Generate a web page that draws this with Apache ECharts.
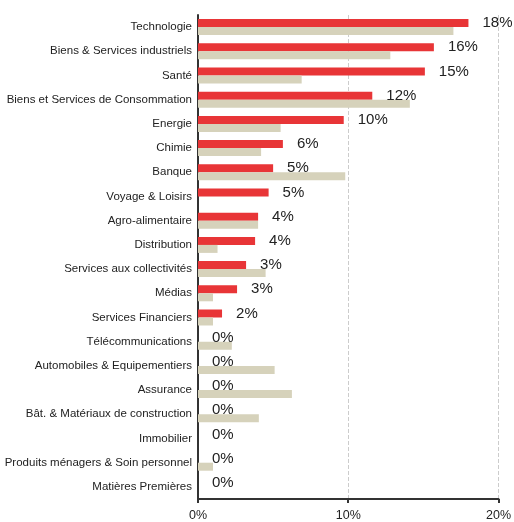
<!DOCTYPE html>
<html><head><meta charset="utf-8">
<script src="https://cdn.jsdelivr.net/npm/echarts@6/dist/echarts.min.js"></script>
<style>html,body{margin:0;padding:0;background:#fff}#c{width:514px;height:522px}</style>
</head><body><div id="c"></div>
<script>
const categories = ["Technologie","Biens & Services industriels","Santé","Biens et Services de Consommation","Energie","Chimie","Banque","Voyage & Loisirs","Agro-alimentaire","Distribution","Services aux collectivités","Médias","Services Financiers","Télécommunications","Automobiles & Equipementiers","Assurance","Bât. & Matériaux de construction","Immobilier","Produits ménagers & Soin personnel","Matières Premières"];
const fundWeights = [18.0,15.7,15.1,11.6,9.7,5.65,5.0,4.7,4.0,3.8,3.2,2.6,1.6,0,0,0,0,0,0,0];
const indexWeights = [17.0,12.8,6.9,14.1,5.5,4.2,9.8,0,4.0,1.3,4.5,1.0,1.0,2.25,5.1,6.25,4.05,0,1.0,0];
const xTicks = [0,10,20];

const chart = echarts.init(document.getElementById('c'));
chart.setOption({
  animation:false,
  grid:{left:198,right:14,top:15,bottom:23},
  xAxis:{type:'value',min:0,max:20,interval:10,
    axisLine:{show:true,lineStyle:{color:'#333',width:2}},
    axisTick:{show:true,length:4,lineStyle:{color:'#333',width:2}},
    axisLabel:{formatter:v=>xTicks.includes(v)?v+'%':'',color:'#222',fontSize:12.5,fontFamily:'Liberation Sans, Arial, sans-serif',margin:10},
    splitLine:{show:true,lineStyle:{color:'#ccc',type:'dashed',width:1}}},
  yAxis:{type:'category',data:categories,inverse:true,
    axisLine:{show:true,lineStyle:{color:'#333',width:2}},
    axisTick:{show:false},
    axisLabel:{color:'#222',fontSize:11.5,fontFamily:'Liberation Sans, Arial, sans-serif',margin:6}},
  series:[
    {type:'bar',data:fundWeights,barWidth:8,barGap:'0%',
      itemStyle:{color:'#E83537',borderWidth:0},
      label:{show:true,position:'right',distance:14,formatter:p=>Math.round(p.value)+'%',color:'#222',fontSize:15,fontFamily:'Liberation Sans, Arial, sans-serif'}},
    {type:'bar',data:indexWeights,barWidth:8,barGap:'0%',
      itemStyle:{color:'#D6D2BB',borderWidth:0}}
  ]
});
</script></body></html>
